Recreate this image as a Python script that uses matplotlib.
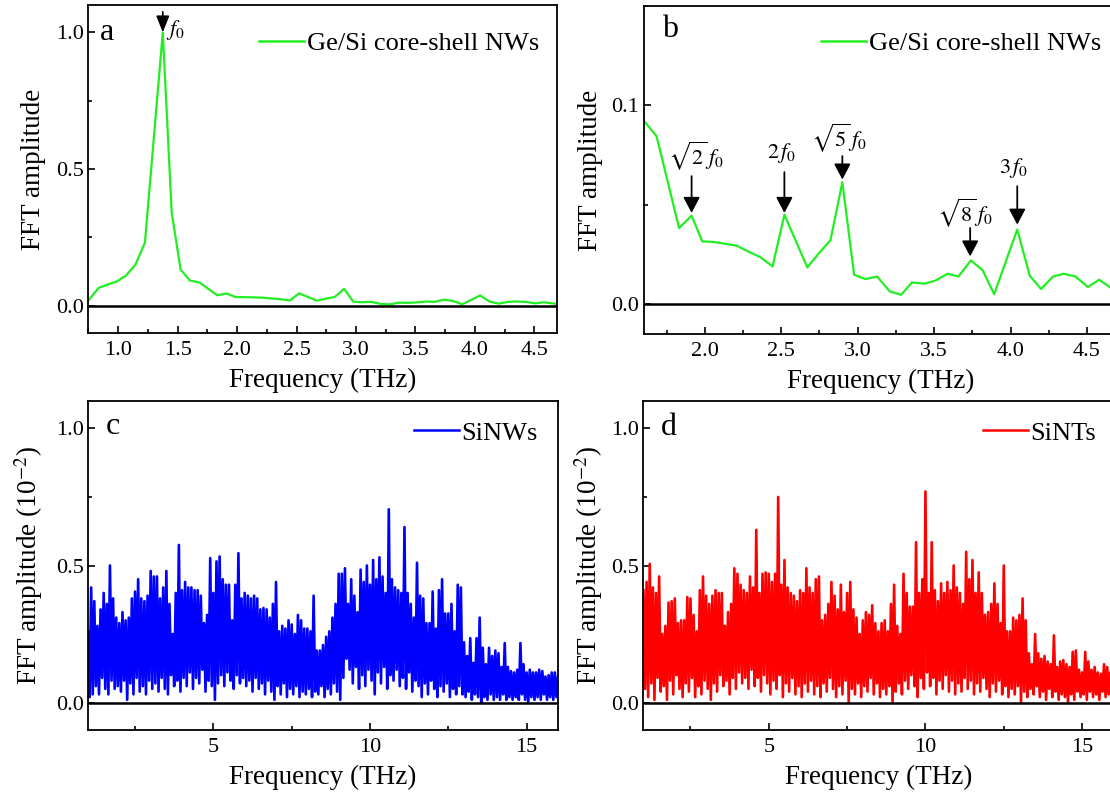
import matplotlib
matplotlib.use("Agg")
import matplotlib.pyplot as plt
from matplotlib.ticker import MultipleLocator
import numpy as np

plt.rcParams['font.family'] = ['Liberation Serif', 'DejaVu Serif']
plt.rcParams['mathtext.fontset'] = 'stix'

# Ge/Si core-shell NWs spectrum (panels a and b show the same curve)
ge_freq = [0.755, 0.835, 0.91, 0.99, 1.065, 1.145, 1.225, 1.375, 1.45, 1.525,
           1.603, 1.685, 1.832, 1.914, 1.984, 2.058, 2.21, 2.292, 2.362, 2.444,
           2.521, 2.671, 2.748, 2.822, 2.90, 2.977, 3.051, 3.128, 3.21, 3.285,
           3.355, 3.437, 3.507, 3.589, 3.659, 3.741, 3.818, 3.893, 4.044, 4.126,
           4.20, 4.278, 4.348, 4.425, 4.506, 4.58, 4.675]
ge_amp = [0.022, 0.065, 0.077, 0.089, 0.11, 0.15, 0.231, 1.0, 0.34, 0.132,
          0.0921, 0.0845, 0.0383, 0.0445, 0.0316, 0.0313, 0.0294, 0.0262, 0.0237, 0.019,
          0.045, 0.0185, 0.0257, 0.0321, 0.0613, 0.0148, 0.0126, 0.0139, 0.0064, 0.0047,
          0.0109, 0.0103, 0.0118, 0.0153, 0.0139, 0.022, 0.017, 0.005, 0.0375, 0.0143,
          0.0076, 0.0139, 0.0153, 0.0139, 0.0086, 0.0123, 0.0072]

# peak labels in panel b
peak_labels = [r'$\sqrt{2}\,f_0$', r'$2\,f_0$', r'$\sqrt{5}\,f_0$', r'$\sqrt{8}\,f_0$', r'$3\,f_0$']
peak_x = [1.914, 2.521, 2.90, 3.736, 4.044]
peak_tail = [0.0644, 0.0664, 0.0745, 0.0383, 0.0593]
peak_tip = [0.0459, 0.0459, 0.0627, 0.0240, 0.0400]
label_x = [1.94, 2.50, 2.876, 3.70, 4.02]
label_y = [0.0745, 0.0761, 0.0837, 0.0459, 0.0686]

# SiNWs spectrum, read per 0.1 THz from 1 to 16 THz: spike tops and troughs
sinw_hi = [0.26, 0.42, 0.37, 0.28, 0.34, 0.40, 0.36, 0.50, 0.38, 0.31,
           0.29, 0.33, 0.30, 0.31, 0.38, 0.405, 0.45, 0.38, 0.37, 0.39,
           0.48, 0.46, 0.46, 0.38, 0.42, 0.48, 0.36, 0.25, 0.40, 0.575,
           0.41, 0.44, 0.42, 0.42, 0.41, 0.41, 0.39, 0.29, 0.32, 0.527,
           0.40, 0.515, 0.533, 0.45, 0.43, 0.43, 0.30, 0.43, 0.545, 0.38,
           0.40, 0.39, 0.38, 0.39, 0.38, 0.34, 0.345, 0.34, 0.31, 0.36,
           0.44, 0.26, 0.28, 0.27, 0.30, 0.285, 0.25, 0.32, 0.30, 0.27,
           0.27, 0.26, 0.39, 0.19, 0.19, 0.21, 0.24, 0.26, 0.31, 0.36,
           0.47, 0.47, 0.49, 0.36, 0.45, 0.39, 0.33, 0.485, 0.44, 0.50,
           0.43, 0.52, 0.45, 0.53, 0.46, 0.40, 0.705, 0.45, 0.42, 0.41,
           0.40, 0.64, 0.40, 0.36, 0.31, 0.51, 0.39, 0.38, 0.29, 0.29,
           0.405, 0.27, 0.41, 0.45, 0.325, 0.325, 0.36, 0.26, 0.43, 0.42,
           0.22, 0.17, 0.235, 0.145, 0.235, 0.31, 0.20, 0.14, 0.20, 0.17,
           0.19, 0.18, 0.13, 0.217, 0.13, 0.115, 0.11, 0.12, 0.217, 0.14,
           0.11, 0.12, 0.11, 0.11, 0.12, 0.115, 0.095, 0.10, 0.11, 0.11,
           0.095]
sinw_lo = [0.02, 0.03, 0.06, 0.03, 0.09, 0.05, 0.03, 0.08, 0.05, 0.06,
           0.04, 0.08, 0.01, 0.07, 0.03, 0.09, 0.04, 0.06, 0.03, 0.08,
           0.05, 0.07, 0.04, 0.09, 0.05, 0.03, 0.10, 0.06, 0.08, 0.04,
           0.09, 0.06, 0.11, 0.05, 0.09, 0.07, 0.12, 0.04, 0.08, 0.06,
           0.01, 0.07, 0.10, 0.06, 0.11, 0.08, 0.05, 0.10, 0.07, 0.09,
           0.06, 0.08, 0.04, 0.09, 0.05, 0.07, 0.03, 0.08, 0.04, 0.01,
           0.06, 0.03, 0.07, 0.02, 0.05, 0.03, 0.06, 0.02, 0.04, 0.03,
           0.05, 0.02, 0.04, 0.03, 0.06, 0.02, 0.05, 0.03, 0.07, 0.04,
           0.01, 0.09, 0.16, 0.12, 0.07, 0.13, 0.05, 0.10, 0.06, 0.12,
           0.08, 0.03, 0.11, 0.07, 0.13, 0.05, 0.10, 0.08, 0.12, 0.06,
           0.09, 0.05, 0.11, 0.04, 0.08, 0.06, 0.02, 0.07, 0.03, 0.08,
           0.05, 0.02, 0.06, 0.04, 0.07, 0.02, 0.05, 0.03, 0.06, 0.03,
           0.02, 0.04, 0.01, 0.03, 0.02, 0.00, 0.02, 0.01, 0.03, 0.01,
           0.02, 0.01, 0.03, 0.01, 0.02, 0.01, 0.02, 0.01, 0.03, 0.01,
           0.00, 0.02, 0.01, 0.02, 0.01, 0.03, 0.01, 0.02, 0.01, 0.02,
           0.01]

# SiNTs spectrum, same sampling
sint_hi = [0.41, 0.44, 0.506, 0.42, 0.40, 0.46, 0.25, 0.28, 0.365, 0.37,
           0.38, 0.29, 0.30, 0.30, 0.385, 0.38, 0.32, 0.26, 0.41, 0.46,
           0.39, 0.36, 0.39, 0.41, 0.40, 0.40, 0.28, 0.33, 0.36, 0.49,
           0.47, 0.43, 0.41, 0.40, 0.46, 0.42, 0.63, 0.40, 0.47, 0.475,
           0.47, 0.44, 0.47, 0.75, 0.43, 0.52, 0.42, 0.40, 0.39, 0.37,
           0.41, 0.40, 0.49, 0.42, 0.40, 0.45, 0.46, 0.30, 0.32, 0.36,
           0.44, 0.39, 0.34, 0.43, 0.33, 0.40, 0.44, 0.34, 0.31, 0.25,
           0.30, 0.33, 0.32, 0.355, 0.29, 0.26, 0.29, 0.30, 0.26, 0.36,
           0.43, 0.28, 0.25, 0.47, 0.40, 0.35, 0.35, 0.585, 0.40, 0.45,
           0.77, 0.40, 0.585, 0.41, 0.37, 0.435, 0.40, 0.44, 0.41, 0.50,
           0.42, 0.40, 0.36, 0.55, 0.45, 0.52, 0.40, 0.475, 0.40, 0.32,
           0.33, 0.36, 0.435, 0.36, 0.29, 0.50, 0.26, 0.26, 0.31, 0.30,
           0.32, 0.38, 0.30, 0.18, 0.14, 0.25, 0.18, 0.16, 0.17, 0.15,
           0.14, 0.245, 0.13, 0.15, 0.155, 0.14, 0.13, 0.185, 0.19, 0.12,
           0.11, 0.185, 0.15, 0.12, 0.13, 0.11, 0.105, 0.14, 0.13, 0.11,
           0.11]
sint_lo = [0.05, 0.02, 0.07, 0.01, 0.09, 0.04, 0.06, 0.01, 0.08, 0.03,
           0.10, 0.05, 0.02, 0.07, 0.04, 0.09, 0.02, 0.06, 0.03, 0.08,
           0.05, 0.01, 0.07, 0.04, 0.10, 0.06, 0.08, 0.03, 0.09, 0.05,
           0.11, 0.07, 0.09, 0.05, 0.12, 0.06, 0.09, 0.04, 0.10, 0.07,
           0.03, 0.08, 0.05, 0.10, 0.02, 0.07, 0.04, 0.09, 0.03, 0.06,
           0.02, 0.07, 0.04, 0.08, 0.03, 0.06, 0.02, 0.07, 0.04, 0.09,
           0.05, 0.02, 0.06, 0.03, 0.08, 0.00, 0.05, 0.03, 0.07, 0.02,
           0.06, 0.04, 0.09, 0.03, 0.07, 0.02, 0.05, 0.03, 0.06, 0.00,
           0.04, 0.07, 0.03, 0.08, 0.05, 0.10, 0.06, 0.02, 0.09, 0.05,
           0.11, 0.06, 0.09, 0.03, 0.08, 0.05, 0.10, 0.04, 0.08, 0.03,
           0.07, 0.04, 0.09, 0.05, 0.08, 0.03, 0.07, 0.04, 0.09, 0.05,
           0.02, 0.07, 0.04, 0.08, 0.03, 0.06, 0.02, 0.05, 0.03, 0.06,
           0.00, 0.04, 0.02, 0.05, 0.03, 0.06, 0.02, 0.04, 0.01, 0.05,
           0.02, 0.04, 0.01, 0.03, 0.02, 0.00, 0.03, 0.01, 0.04, 0.02,
           0.03, 0.01, 0.04, 0.02, 0.03, 0.01, 0.04, 0.02, 0.03, 0.01,
           0.02]


def zigzag(hi, lo):
    # sampled every 0.1 THz, trough half a step after each top
    f = np.linspace(1.0, 16.0, len(hi))
    half = (f[1] - f[0]) / 2
    x = np.column_stack([f, f + half]).ravel()
    y = np.column_stack([hi, lo]).ravel()
    return x, y


def style(ax, xlim, ylim, xmaj, xmin, ymaj, ymin):
    ax.set_xlim(*xlim)
    ax.set_ylim(*ylim)
    ax.xaxis.set_major_locator(MultipleLocator(xmaj))
    ax.xaxis.set_minor_locator(MultipleLocator(xmin))
    ax.yaxis.set_major_locator(MultipleLocator(ymaj))
    ax.yaxis.set_minor_locator(MultipleLocator(ymin))
    ax.tick_params(which='both', direction='in', labelsize=16, width=1.2)
    ax.tick_params(which='major', length=5)
    ax.tick_params(which='minor', length=3)
    ax.tick_params(axis='x', pad=6)
    ax.tick_params(axis='y', pad=3)
    for s in ax.spines.values():
        s.set_linewidth(1.3)
    ax.axhline(0, color='k', lw=1.8, zorder=3)


fig = plt.figure(figsize=(11.1, 7.98), dpi=100)

ax_a = fig.add_axes([0.0797, 0.5827, 0.4221, 0.4110])
ax_b = fig.add_axes([0.5798, 0.5815, 0.4270, 0.4110])
ax_c = fig.add_axes([0.0793, 0.0852, 0.4234, 0.4123])
ax_d = fig.add_axes([0.5797, 0.0852, 0.4234, 0.4123])

green = '#22EE22'

# ---- a
ax_a.plot(ge_freq, ge_amp, color=green, lw=1.6, label='Ge/Si core-shell NWs')
style(ax_a, (0.75, 4.69), (-0.1, 1.1), 0.5, 0.25, 0.5, 0.25)
ax_a.annotate('', xy=(1.375, 1.0), xytext=(1.375, 1.075),
              arrowprops=dict(arrowstyle='-|>,head_length=1.0,head_width=0.4',
                              mutation_scale=10, color='k', lw=1.2,
                              shrinkA=0, shrinkB=0))
ax_a.text(1.40, 1.01, r'$f_0$', fontsize=16, ha='left', va='center')

# ---- b
ax_b.plot(ge_freq, ge_amp, color=green, lw=1.6, label='Ge/Si core-shell NWs')
style(ax_b, (1.6, 4.7), (-0.015, 0.15), 0.5, 0.25, 0.1, 0.05)
for lab, px, ty, hy, lx, ly in zip(peak_labels, peak_x, peak_tail, peak_tip, label_x, label_y):
    ax_b.annotate('', xy=(px, hy), xytext=(px, ty),
                  arrowprops=dict(arrowstyle='-|>,head_length=0.95,head_width=0.5',
                                  mutation_scale=10, color='k', lw=1.3,
                                  shrinkA=0, shrinkB=0))
    ax_b.text(lx, ly, lab, fontsize=16, ha='center', va='center')

# ---- c
xc, yc = zigzag(sinw_hi, sinw_lo)
ax_c.plot(xc, yc, color='#0000FF', lw=1.9, label='SiNWs')
style(ax_c, (1, 16), (-0.1, 1.1), 5, 2.5, 0.5, 0.25)

# ---- d
xd, yd = zigzag(sint_hi, sint_lo)
ax_d.plot(xd, yd, color='#FF0000', lw=1.9, label='SiNTs')
style(ax_d, (1, 16), (-0.1, 1.1), 5, 2.5, 0.5, 0.25)

# labels, letters, legends
panels = [
    (ax_a, 'a', 'FFT amplitude', (0.0245, 0.915), (0.962, 0.884), -0.090),
    (ax_b, 'b', 'FFT amplitude', (0.039, 0.927), (0.965, 0.887), -0.086),
    (ax_c, 'c', 'FFT amplitude (10$^{-2}$)', (0.038, 0.921), (0.957, 0.903), -0.092),
    (ax_d, 'd', 'FFT amplitude (10$^{-2}$)', (0.037, 0.918), (0.963, 0.903), -0.082),
]
for ax, letter, ylab, lpos, legpos, ylx in panels:
    ax.text(lpos[0], lpos[1], letter, transform=ax.transAxes, fontsize=23,
            ha='left', va='center')
    ax.set_xlabel('Frequency (THz)', fontsize=19.5)
    ax.set_ylabel(ylab, fontsize=19.5)
    ax.xaxis.set_label_coords(0.5, -0.107)
    ax.yaxis.set_label_coords(ylx, 0.5)
    leg = ax.legend(loc='center right', bbox_to_anchor=legpos, frameon=False,
                    fontsize=19, borderpad=0, borderaxespad=0,
                    handlelength=1.7, handletextpad=0.1)
    for h in leg.get_lines():
        h.set_linewidth(1.8)

fig.savefig('out.png', dpi=100)
